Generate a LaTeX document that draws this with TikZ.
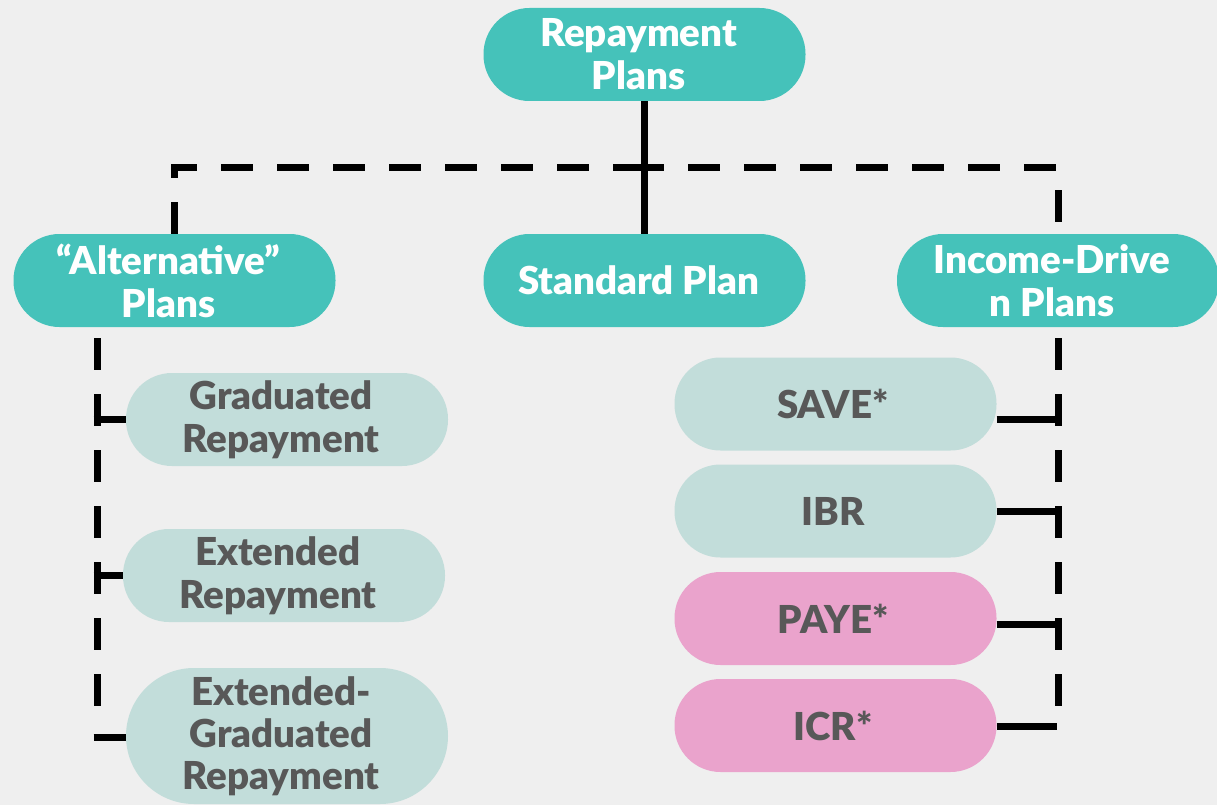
\documentclass[tikz,border=0pt]{standalone}
\usepackage{fontspec}
\setmainfont{Lato}
\newfontfamily\heavyfont{Lato Black}
\definecolor{bgc}{HTML}{EFEFEF}
\definecolor{tealc}{HTML}{45C2BA}
\definecolor{mintc}{HTML}{C2DDDA}
\definecolor{pinkc}{HTML}{EAA3CC}
\definecolor{greytext}{HTML}{585858}
\newcommand{\sh}{\kern12pt}
\newcommand{\shs}{\kern5pt}
\begin{document}
\begin{tikzpicture}[x=1pt,y=-1pt,
  box/.style={rectangle, rounded corners=46pt, minimum width=322pt, minimum height=93pt,
    inner sep=0pt, align=center, font=\heavyfont\fontsize{38.5}{43}\selectfont},
  mainbox/.style={box, fill=tealc, text=white},
  subbox/.style={box, fill=mintc, text=greytext},
  pinkbox/.style={box, fill=pinkc, text=greytext},
  solidline/.style={line width=7pt},
  dashline/.style={line width=7pt, dash pattern=on 32pt off 24pt},
]
\fill[bgc] (0,0) rectangle (1217,805);
\useasboundingbox (0,0) rectangle (1217,805);

% top level
\node[mainbox] (top) at (644.5,54.5) {Repayment\sh\\Plans\sh};
\node[mainbox] (alt) at (174.5,280.5) {“Alternative”\sh\\Plans\sh};
\node[mainbox] (std) at (644.5,280.5) {Standard Plan\sh};
\node[mainbox] (inc) at (1058,280.5) {Income-Drive\sh\\n Plans\sh};

% left children
\node[subbox] (grad) at (287,419.5) {Graduated\sh\\Repayment\sh};
\node[subbox] (ext) at (284,575.5) {Extended\sh\\Repayment\sh};
\node[subbox, minimum height=136pt, rounded corners=68pt, font=\heavyfont\fontsize{38.5}{42}\selectfont] (eg) at (287,736) {Extended-\sh\\Graduated\sh\\Repayment\sh};

% right children
\node[subbox] (save) at (835.5,404) {SAVE*\shs};
\node[subbox] (ibr) at (835.5,511) {IBR\shs};
\node[pinkbox] (paye) at (835.5,618.5) {PAYE*\shs};
\node[pinkbox] (icr) at (835.5,725.5) {ICR*\shs};

% junction
\coordinate (j) at (644.5,168);
\draw[solidline] (top.south) -- (std.north);
\draw[dashline] (j) -| (alt.north);
\draw[dashline, dash phase=44pt] (inc.north) |- (j);

% left trunk
\coordinate (ltend) at (97,706);
\draw[dashline, dash phase=45pt] (alt.south -| ltend) -- (ltend);
\coordinate (lg) at (93.5,419.5);
\coordinate (le) at (93.5,575.5);
\coordinate (leg) at (93.5,737);
\draw[solidline] (lg) -- (grad.west |- lg);
\draw[solidline] (le) -- (ext.west |- le);
\draw[solidline] (leg) -- (eg.west |- leg);

% right trunk
\coordinate (rtend) at (1058,706);
\draw[dashline, dash phase=45pt] (inc.south) -- (rtend);
\coordinate (rs) at (1061.5,419);
\coordinate (ri) at (1061.5,511);
\coordinate (rp) at (1061.5,624);
\coordinate (rc) at (1057,726);
\draw[solidline] (save.east |- rs) -- (rs);
\draw[solidline] (ibr.east |- ri) -- (ri);
\draw[solidline] (paye.east |- rp) -- (rp);
\draw[solidline] (icr.east |- rc) -- (rc);
\end{tikzpicture}
\end{document}
